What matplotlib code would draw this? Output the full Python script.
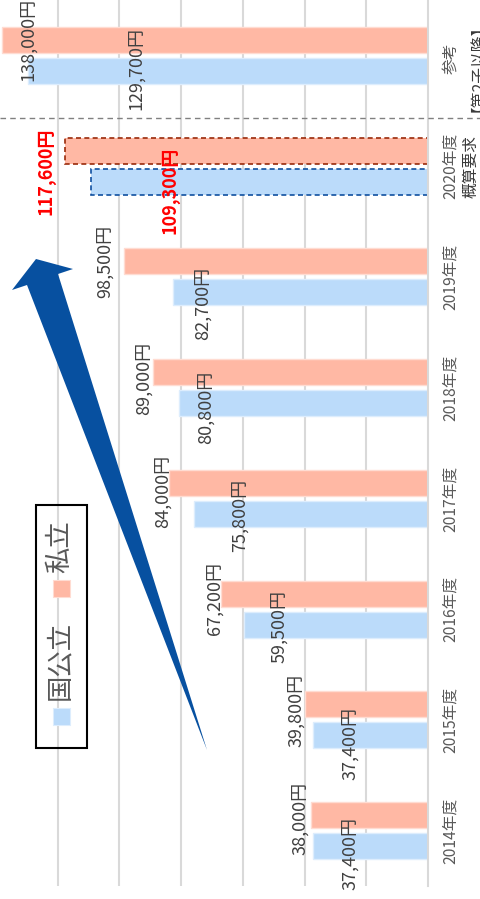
import numpy as np
import matplotlib
matplotlib.use("Agg")
import matplotlib.pyplot as plt
from matplotlib import patches, transforms

plt.rcParams['font.family'] = ['Noto Sans CJK JP', 'DejaVu Sans']

# categories, bottom to top
years = ["2014年度", "2015年度", "2016年度", "2017年度", "2018年度", "2019年度", "2020年度", "参考"]
sub_labels = ["", "", "", "", "", "", "概算要求", "【第2子以降】"]
national = [37400, 37400, 59500, 75800, 80800, 82700, 109300, 129700]
private = [38000, 39800, 67200, 84000, 89000, 98500, 117600, 138000]
legend_names = ["国公立", "私立"]

# hand placed label offsets (pixels, from bar end / bar centre)
priv_dx = [-11, -9, -6, -6, -10, -19, -19, 26]
priv_dy = [-3, -6, -5, -9, -6, 0, -21, 0]
nat_dx = [38, 38, 35, 46, 27, 30, 79, 108]
nat_dy = [-7, -8, -2, -2, -4, -11, -9, 2]
# small vertical nudges (pixels) of the right hand labels
lab_dy = [0, 0, 0, 0, 0, 0, 0, -3]
sub_dy = [0, 0, 0, 0, 0, 0, 0, -5]

W, H = 481, 899
c_priv = '#FFB8A4'
c_nat = '#BBDBFA'
c_text = '#404040'
c_tick = '#595959'

fig = plt.figure(figsize=(W / 100, H / 100), dpi=100)
ax = fig.add_axes([0, (H - 886) / H, 428 / W, 886 / H])

y = np.arange(len(years))
bh = 0.235
off = 0.14
b_priv = ax.barh(y + off, private, height=bh, color=c_priv, edgecolor='#FFDCD2', lw=1.0, zorder=2)
b_nat = ax.barh(y - off, national, height=bh, color=c_nat, edgecolor='#DDEDFD', lw=1.0, zorder=2)

# 2020 request bars are dashed
b_priv[6].set_edgecolor('#9A2A0A')
b_priv[6].set_linestyle((0, (3, 2)))
b_priv[6].set_linewidth(1.2)
b_nat[6].set_edgecolor('#1050A0')
b_nat[6].set_linestyle((0, (3, 2)))
b_nat[6].set_linewidth(1.2)

ax.set_xlim(138700, 0)
ax.set_ylim(-0.5, 7.5)
ax.set_xticks(np.arange(20000, 140000, 20000))
ax.set_yticks([])
ax.tick_params(axis='x', length=0, labelbottom=False)
ax.grid(axis='x', color='#D9D9D9', lw=1.5)
ax.set_axisbelow(True)
for s in ['top', 'left', 'bottom']:
    ax.spines[s].set_visible(False)
ax.spines['right'].set_color('#D9D9D9')
ax.spines['right'].set_linewidth(1.5)
ax.patch.set_alpha(0)

# value labels
for i in range(len(years)):
    red = i == 6
    ax.annotate(f"{private[i]:,}円", xy=(private[i], y[i] + off), xytext=(priv_dx[i], priv_dy[i]),
                textcoords='offset pixels', rotation=90, ha='center', va='center',
                fontsize=13, color='red' if red else c_text,
                fontweight='bold' if red else 'normal', zorder=4)
    ax.annotate(f"{national[i]:,}円", xy=(national[i], y[i] - off), xytext=(nat_dx[i], nat_dy[i]),
                textcoords='offset pixels', rotation=90, ha='center', va='center',
                fontsize=13, color='red' if red else c_text,
                fontweight='bold' if red else 'normal', zorder=4)

# category labels on the right
tr = transforms.blended_transform_factory(fig.transFigure, ax.transData)
for i, lab in enumerate(years):
    ax.annotate(lab, xy=(450.5 / W, y[i]), xycoords=tr, xytext=(0, lab_dy[i]),
                textcoords='offset pixels', rotation=90, ha='center', va='center',
                fontsize=11.3, color=c_tick, annotation_clip=False)
    if sub_labels[i]:
        ax.annotate(sub_labels[i], xy=(470.5 / W, y[i]), xycoords=tr, xytext=(0, sub_dy[i]),
                    textcoords='offset pixels', rotation=90, ha='center', va='center',
                    fontsize=11.3, color='#3A3A3A', annotation_clip=False)

# dashed separator above 2020
fig.add_artist(plt.Line2D([0, 1], [1 - 118 / H, 1 - 118 / H], transform=fig.transFigure,
                          color='#808080', lw=1.0, ls=(0, (4, 3))))

# legend box
def fx(px):
    return px / W

def fy(py):
    return 1 - py / H

fig.add_artist(patches.Rectangle((fx(36), fy(748)), fx(87) - fx(36), fy(505) - fy(748),
                                 transform=fig.transFigure, fill=False, ec='black', lw=1.5, zorder=5))
fig.add_artist(patches.Rectangle((fx(53), fy(725)), 17 / W, 17 / H, transform=fig.transFigure,
                                 fc=c_nat, ec='#DDEDFD', lw=0.8, zorder=5))
fig.add_artist(patches.Rectangle((fx(53), fy(597)), 17 / W, 17 / H, transform=fig.transFigure,
                                 fc=c_priv, ec='#FFDCD2', lw=0.8, zorder=5))
fig.text(fx(60), fy(660), legend_names[0], rotation=90, ha='center', va='center',
         fontsize=19, color=c_tick, zorder=5)
fig.text(fx(60), fy(547), legend_names[1], rotation=90, ha='center', va='center',
         fontsize=19, color=c_tick, zorder=5)

# big trend arrow
arrow_px = [(207, 750), (27, 285), (12, 290), (36, 259), (73, 269), (58, 274)]
fig.add_artist(patches.Polygon([(fx(a), fy(b)) for a, b in arrow_px], closed=True,
                               transform=fig.transFigure, fc='#0750A0', ec='none', zorder=6))

fig.savefig("out.png", dpi=100)
